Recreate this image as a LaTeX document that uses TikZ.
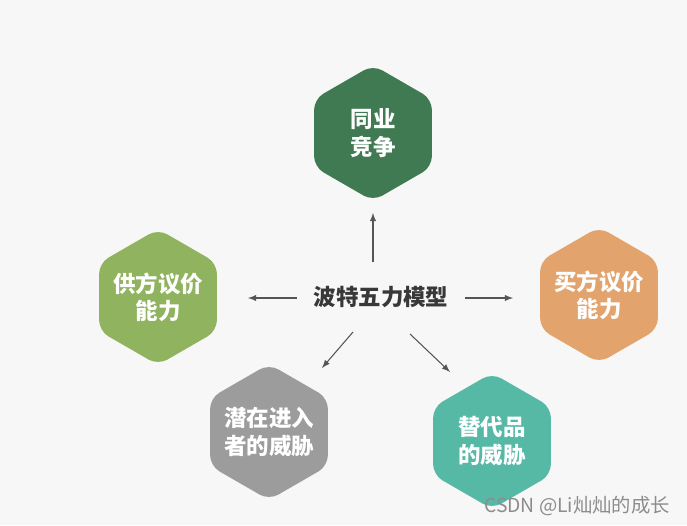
\documentclass[tikz,border=0pt]{standalone}
\usepackage{fontspec}
\usepackage{tikz}
\usetikzlibrary{shapes.geometric}
\newfontfamily\cjk{Noto Sans CJK SC}
\definecolor{fond}{HTML}{F7F7F7}
\definecolor{vertfonce}{HTML}{3F7A52}
\definecolor{vertclair}{HTML}{90B35F}
\definecolor{orange}{HTML}{E3A36C}
\definecolor{grisfonce}{HTML}{9C9C9C}
\definecolor{turquoise}{HTML}{55B9A6}
\definecolor{fleche}{HTML}{555555}
\newcommand{\hexa}[5]{\node[hexa, fill=#2] (#1) at (#3) {#4\\#5}}
\newcommand{\fl}[4]{\draw[fl] ([shift={(#2)}]#1.center) -- ([shift={(#4)}]#3.center)}

\begin{document}
\begin{tikzpicture}[x=0.02cm, y=-0.02cm,
	hexa/.style={regular polygon, regular polygon sides=6, shape border rotate=30,
		minimum size=2.72cm, inner sep=-12pt, rounded corners=6pt, align=center,
		text=white, font=\cjk\bfseries\fontsize{12.8}{15.5}\selectfont},
	fl/.style={draw=fleche, line width=0.6pt, -latex}]
%Background
	\fill[fond] (0,0) rectangle (687,525);
%The hexagons
	\hexa{top}{vertfonce}{373,133}{同业}{竞争};
	\hexa{left}{vertclair}{158,297}{供方议价}{能力};
	\hexa{right}{orange}{599,295}{买方议价}{能力};
	\hexa{bl}{grisfonce}{269,432}{潜在进入}{者的威胁};
	\hexa{br}{turquoise}{492,441}{替代品}{的威胁};
%The centre
	\node[text=black!78, font=\cjk\bfseries\fontsize{12.8}{15}\selectfont] (model) at (381,297) {波特五力模型};
%Arrows
	\fl{model}{-8,-35}{top}{0,80};
	\fl{model}{-84,1}{left}{90,1};
	\fl{model}{84,1}{right}{-86,3};
	\fl{model}{-28,35}{bl}{53,-64};
	\fl{model}{29,37}{br}{-42,-69};
%Signature
	\node[text=black!45, font=\cjk\fontsize{11}{12}\selectfont] (sign) at (577,506) {CSDN @Li灿灿的成长};
\end{tikzpicture}
\end{document}
